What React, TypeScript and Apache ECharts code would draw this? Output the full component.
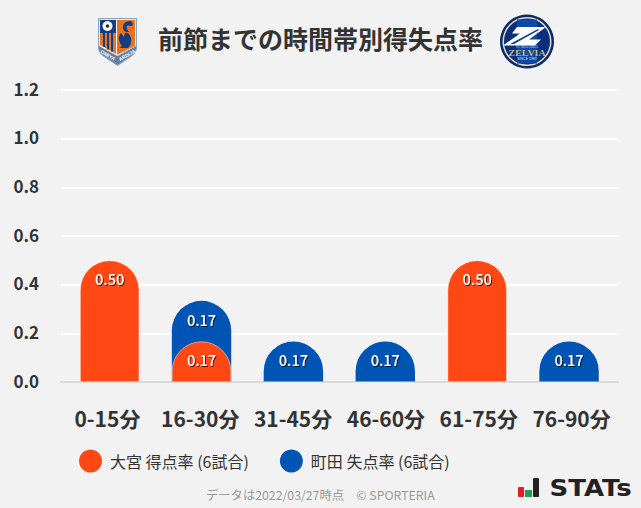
import React, { useEffect, useRef } from "react";
import * as echarts from "echarts";

const categories = ["0-15分", "16-30分", "31-45分", "46-60分", "61-75分", "76-90分"];
const omiyaRates = [0.5, 0.1667, 0, 0, 0.5, 0];
const machidaRates = [0, 0.1667, 0.1667, 0.1667, 0, 0.1667];
const legendNames = ["大宮 得点率 (6試合)", "町田 失点率 (6試合)"];
const FONT = '"Noto Sans CJK JP", "Noto Sans", sans-serif';
const ORANGE = "#ff4814";
const BLUE = "#0054b4";
const NAVY = "#123f80";
const LOGO_ORANGE = "#e8731c";

const reg = (name: string, d: string) => echarts.graphic.registerShape(name, echarts.graphic.extendPath(d, {}));
reg("omShield", "M0 1 L39 1 L39 30 Q39 36 33 40 L19.5 49 L6 40 Q0 36 0 30 Z");
reg("omBand", "M1 29 L19.5 39 L38 29 L38 31 Q38 36 32 39.500 L19.5 48 L7 39.500 Q1 36 1 31 Z");
reg("omRight", "M19 3 L37 3 L37 29 L19 38 Z");
reg("omLeft", "M2 16 L18 16 L18 37 L2 28 Z");
reg("omSquirrel", "M33 4 Q26 4 25 9 Q24 13 28 15 L31 15 Q28 12 29 9 Q30 8 34 9 Q36 7 33 4 Z M23 16 Q20 19 21 23 Q22 27 24 29 L21 31 L30 31 Q34 27 33 21 Q31 15 27 16 Q26 19 26 20 Z");
reg("zMark", "M-10 -14.500 L19 -14.500 L2 -2 L14 -2 L8 4 L-24 4 L-7 -8 L-15 -8 Z");
reg("zCut", "M10 -12 L13 -12 L-13 2.500 L-17 2.500 Z");

export default function App() {
  const ref = useRef<HTMLDivElement>(null);
  useEffect(() => {
    const chart = echarts.init(ref.current!, null, { renderer: "svg" });
    const valueLabel = (rates: number[]) => ({
      show: true,
      position: "insideTop" as const,
      distance: 11,
      color: "#fff",
      fontFamily: FONT,
      fontSize: 14.5,
      fontWeight: 500,
      textShadowColor: "rgba(0,0,0,0.75)",
      textShadowBlur: 1,
      textShadowOffsetX: 1,
      textShadowOffsetY: 1,
      formatter: (p: any) => (rates[p.dataIndex] > 0 ? rates[p.dataIndex].toFixed(2) : ""),
    });
    chart.setOption({
      animation: false,
      backgroundColor: "#f2f2f2",
      textStyle: { fontFamily: FONT },
      grid: [
        { left: 61, width: 557, top: 90, height: 292 },
        { left: 63.7, width: 551.3, top: 90, height: 292 },
      ],
      legend: {
        left: 79,
        top: 449.5,
        padding: 0,
        itemWidth: 23,
        itemHeight: 23,
        itemGap: 31,
        icon: "circle",
        itemStyle: { borderWidth: 0 },
        data: legendNames,
        textStyle: { fontFamily: FONT, fontSize: 16, color: "#333", padding: [0, 0, 0, 3] },
      },
      xAxis: [
        {
          gridIndex: 0,
          type: "category",
          data: categories,
          axisLine: { lineStyle: { color: "#d9d9d9", width: 2 } },
          axisTick: { show: false },
          axisLabel: { color: "#333", fontFamily: FONT, fontSize: 21, fontWeight: 700, margin: 25, interval: 0 },
        },
        {
          gridIndex: 1,
          type: "category",
          data: categories,
          axisLine: { show: false },
          axisTick: { show: false },
          axisLabel: { show: false },
        },
      ],
      yAxis: [
        {
          gridIndex: 0,
          type: "value",
          min: 0,
          max: 1.2,
          interval: 0.2,
          axisLine: { show: false },
          axisTick: { show: false },
          splitLine: { lineStyle: { color: "#ffffff", width: 2 } },
          axisLabel: {
            color: "#333",
            fontFamily: FONT,
            fontSize: 17,
            fontWeight: 700,
            margin: 22,
            verticalAlign: "bottom",
            lineHeight: 4,
            formatter: (v: number) => v.toFixed(1),
          },
        },
        {
          gridIndex: 1,
          type: "value",
          min: 0,
          max: 1.2,
          interval: 0.2,
          axisLine: { show: false },
          axisTick: { show: false },
          splitLine: { show: false },
          axisLabel: { show: false },
        },
      ],
      series: [
        {
          name: legendNames[1],
          type: "bar",
          xAxisIndex: 1,
          yAxisIndex: 1,
          barWidth: 59.4,
          barGap: "-100%",
          z: 2,
          data: machidaRates.map((v, i) => (v > 0 ? v + omiyaRates[i] : 0)),
          itemStyle: { color: BLUE, borderRadius: [30, 30, 0, 0] },
          label: valueLabel(machidaRates),
        },
        {
          name: legendNames[0],
          type: "bar",
          xAxisIndex: 1,
          yAxisIndex: 1,
          barWidth: 59.4,
          barGap: "-100%",
          z: 3,
          data: omiyaRates,
          itemStyle: { color: ORANGE, borderRadius: [30, 30, 0, 0], borderColor: "rgba(255,255,255,0.7)", borderWidth: 0.7 },
          label: valueLabel(omiyaRates),
        },
      ],
      color: [BLUE, ORANGE],
      graphic: [
        {
          type: "text",
          left: 158,
          top: 25,
          style: { text: "前節までの時間帯別得失点率", fontFamily: FONT, fontSize: 25, fontWeight: 700, fill: "#333" },
        },
        {
          type: "text",
          left: 206,
          top: 489,
          style: { text: "データは2022/03/27時点　© SPORTERIA", fontFamily: FONT, fontSize: 12.3, fill: "#999" },
        },
        {
          type: "group",
          x: 98,
          y: 17,
          children: [
            { type: "omShield", style: { fill: "#8aa3bf" } },
            { type: "omShield", x: 1.2, y: 1.2, scaleX: 0.94, scaleY: 0.95, style: { fill: "#ffffff" } },
            { type: "rect", shape: { x: 2, y: 3, width: 16, height: 13 }, style: { fill: NAVY } },
            { type: "circle", shape: { cx: 9.5, cy: 9, r: 5 }, style: { fill: "#fff" } },
            { type: "circle", shape: { cx: 9.5, cy: 9, r: 1.8 }, style: { fill: "#333" } },
            { type: "omLeft", style: { fill: LOGO_ORANGE } },
            { type: "rect", shape: { x: 5, y: 16, width: 2, height: 14 }, style: { fill: NAVY } },
            { type: "rect", shape: { x: 9, y: 16, width: 2, height: 16.5 }, style: { fill: NAVY } },
            { type: "rect", shape: { x: 13, y: 16, width: 2, height: 18.5 }, style: { fill: NAVY } },
            { type: "omRight", style: { fill: LOGO_ORANGE } },
            { type: "omSquirrel", style: { fill: NAVY } },
            { type: "omBand", style: { fill: "#5d7fa8" } },
            { type: "text", x: 10, y: 38, rotation: -0.52, style: { text: "OMIYA", fontFamily: "Liberation Sans", fontSize: 5, fontWeight: "bold", fill: "#fff", align: "center", verticalAlign: "middle" } },
            { type: "text", x: 29, y: 38, rotation: 0.52, style: { text: "ARDIJA", fontFamily: "Liberation Sans", fontSize: 5, fontWeight: "bold", fill: "#fff", align: "center", verticalAlign: "middle" } },
          ],
        },
        {
          type: "group",
          x: 527,
          y: 41.5,
          children: [
            { type: "circle", shape: { cx: 0, cy: 0, r: 27 }, style: { fill: "#0a2a6b" } },
            { type: "circle", shape: { cx: 0, cy: 0, r: 24.5 }, style: { fill: "#e6dcc0" } },
            { type: "circle", shape: { cx: 0, cy: 0, r: 23 }, style: { fill: "#0a2f80" } },
            { type: "rect", shape: { x: -10, y: -22, width: 20, height: 44 }, style: { fill: "#0c4aa6" } },
            { type: "zMark", style: { fill: "#ffffff" } },
            { type: "zCut", style: { fill: "#0c3f94" } },
            { type: "text", x: 0, y: 5.2, style: { text: "FC MACHIDA", fontFamily: "Liberation Serif", fontSize: 3.5, fill: "#d8d8d8", align: "center", verticalAlign: "middle" } },
            { type: "text", x: 0, y: 11.5, scaleX: 1.25, style: { text: "ZELVIA", fontFamily: "Liberation Serif", fontSize: 8, fontWeight: "bold", fill: "#c9b67a", align: "center", verticalAlign: "middle" } },
            { type: "text", x: 0, y: 17.5, style: { text: "SINCE 1989", fontFamily: "Liberation Sans", fontSize: 3.5, fill: "#d8d8d8", align: "center", verticalAlign: "middle" } },
          ],
        },
        {
          type: "group",
          x: 518,
          y: 478,
          children: [
            { type: "rect", shape: { x: 0, y: 9, width: 6, height: 10, r: 1 }, style: { fill: "#e02020" } },
            { type: "rect", shape: { x: 7, y: 12, width: 7, height: 7 }, style: { fill: "#1ea050" } },
            { type: "rect", shape: { x: 15, y: 0, width: 6, height: 19, r: 1 }, style: { fill: "#222" } },
            { type: "text", x: 31.5, y: 10, scaleX: 1.13, style: { text: "STATs", fontFamily: "DejaVu Sans", fontSize: 23, fontWeight: "bold", fill: "#222", verticalAlign: "middle" } },
          ],
        },
      ],
    });
    return () => chart.dispose();
  }, []);
  return <div ref={ref} style={{ width: 641, height: 508, position: "fixed", left: 0, top: 0 }} />;
}
